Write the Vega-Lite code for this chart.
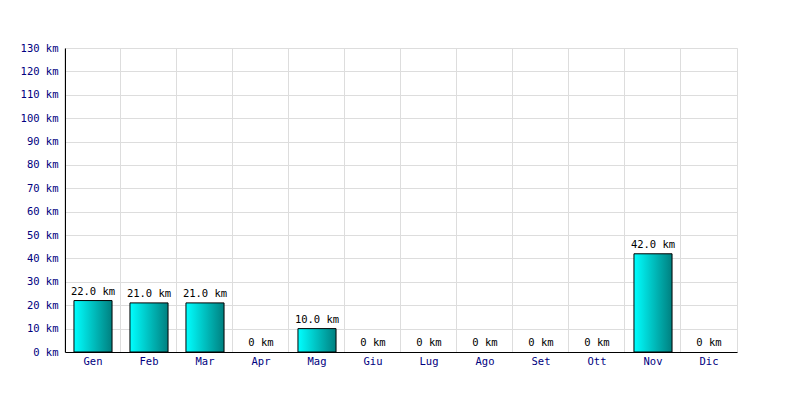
{
  "$schema": "https://vega.github.io/schema/vega-lite/v6.json",
  "width": 672,
  "height": 304,
  "autosize": "none",
  "padding": {"left": 65, "top": 48, "right": 63, "bottom": 48},
  "background": "white",
  "config": {
    "view": {"stroke": "#dddddd", "strokeWidth": 1},
    "font": "DejaVu Sans Mono"
  },
  "data": {
    "values": [
      {"mese": "Gen", "km": 22, "label": "22.0 km"},
      {"mese": "Feb", "km": 21, "label": "21.0 km"},
      {"mese": "Mar", "km": 21, "label": "21.0 km"},
      {"mese": "Apr", "km": 0, "label": "0 km"},
      {"mese": "Mag", "km": 10, "label": "10.0 km"},
      {"mese": "Giu", "km": 0, "label": "0 km"},
      {"mese": "Lug", "km": 0, "label": "0 km"},
      {"mese": "Ago", "km": 0, "label": "0 km"},
      {"mese": "Set", "km": 0, "label": "0 km"},
      {"mese": "Ott", "km": 0, "label": "0 km"},
      {"mese": "Nov", "km": 42, "label": "42.0 km"},
      {"mese": "Dic", "km": 0, "label": "0 km"}
    ]
  },
  "encoding": {
    "x": {
      "field": "mese", "type": "nominal",
      "sort": ["Gen", "Feb", "Mar", "Apr", "Mag", "Giu", "Lug", "Ago", "Set", "Ott", "Nov", "Dic"],
      "scale": {"domain": ["Gen", "Feb", "Mar", "Apr", "Mag", "Giu", "Lug", "Ago", "Set", "Ott", "Nov", "Dic"], "paddingInner": 0.32, "paddingOuter": 0.16},
      "axis": {
        "title": null, "labelAngle": 0, "ticks": false, "labelPadding": 4,
        "labelFont": "DejaVu Sans Mono", "labelFontSize": 10.5, "labelColor": "#000080",
        "domainColor": "#000000", "domainWidth": 1,
        "grid": true, "bandPosition": -0.2353, "gridColor": "#dddddd", "gridWidth": 1
      }
    },
    "y": {
      "field": "km", "type": "quantitative",
      "scale": {"domain": [0, 130], "nice": false},
      "axis": {
        "title": null, "values": [0,10,20,30,40,50,60,70,80,90,100,110,120,130],
        "labelExpr": "datum.value + ' km'", "ticks": false, "labelPadding": 7,
        "labelFont": "DejaVu Sans Mono", "labelFontSize": 10.5, "labelColor": "#000080",
        "domainColor": "#000000", "domainWidth": 1,
        "gridColor": "#dddddd", "gridWidth": 1
      }
    }
  },
  "layer": [
    {
      "transform": [{"filter": "datum.km > 0"}],
      "mark": {
        "type": "bar", "stroke": "#000000", "strokeWidth": 1,
        "color": {
          "gradient": "linear", "x1": 0, "x2": 1, "y1": 0, "y2": 0,
          "stops": [{"offset": 0, "color": "#00ffff"}, {"offset": 1, "color": "#008080"}]
        }
      }
    },
    {
      "mark": {"type": "text", "baseline": "bottom", "dy": -4, "font": "DejaVu Sans Mono", "fontSize": 10.5, "color": "#000000"},
      "encoding": {"text": {"field": "label"}}
    }
  ]
}
